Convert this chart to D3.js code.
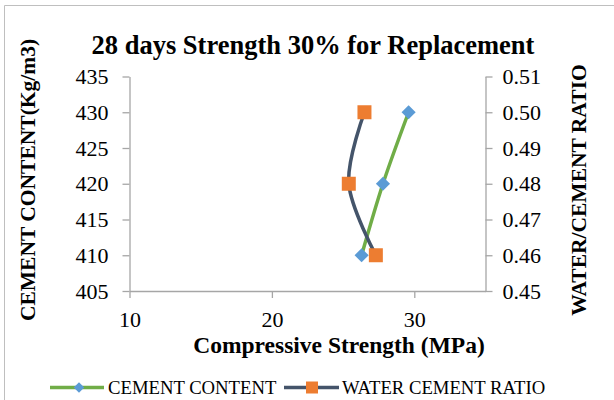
<!DOCTYPE html>
<html>
<head>
<meta charset="utf-8">
<script src="https://cdn.jsdelivr.net/npm/d3@7"></script>
<style>
  html, body { margin: 0; padding: 0; background: #fff; }
  svg { display: block; }
</style>
</head>
<body>
<svg id="chart" width="614" height="400"></svg>
<script>
// Cement content series: compressive strength (MPa) vs cement content (kg/m3)
const cementStrength = [26.3, 27.8, 29.6];
const cementContent = [410, 420, 430];
// Water/cement ratio series: compressive strength (MPa) vs w/c ratio
const wcrStrength = [27.3, 25.4, 26.5];
const wcrValues = [0.46, 0.48, 0.50];

const xTicks = [10, 20, 30];
const leftTicks = [405, 410, 415, 420, 425, 430, 435];
const rightTicks = [0.45, 0.46, 0.47, 0.48, 0.49, 0.50, 0.51];

const FONT = "'Liberation Serif'";

const svg = d3.select("#chart");
const W = 614, H = 400;
const plot = { left: 129.5, right: 485.5, top: 76.5, bottom: 291 };
const axisColor = "#a6a6a6";

// Outer chart frame (left and top edges)
svg.append("line").attr("x1", 4.5).attr("y1", 5.5).attr("x2", 4.5).attr("y2", H)
  .attr("stroke", "#bfbfbf").attr("stroke-width", 1);
svg.append("line").attr("x1", 4.5).attr("y1", 5.5).attr("x2", W).attr("y2", 5.5)
  .attr("stroke", "#bfbfbf").attr("stroke-width", 1);

const x = d3.scaleLinear().domain([10, 35]).range([plot.left, plot.right]);
const yL = d3.scaleLinear().domain([405, 435]).range([plot.bottom, plot.top]);
const yR = d3.scaleLinear().domain([0.45, 0.51]).range([plot.bottom, plot.top]);

function styleAxis(g) {
  g.attr("font-family", null).attr("font-size", null);
  g.selectAll("path").attr("stroke", axisColor).attr("stroke-width", 1.3);
  g.selectAll("line").attr("stroke", axisColor).attr("stroke-width", 1.3);
  g.selectAll("text").style("font-family", FONT).style("font-size", "22px").attr("fill", "#000");
}

// Bottom axis
svg.append("g").attr("transform", `translate(0,${plot.bottom})`)
  .call(d3.axisBottom(x).tickValues(xTicks).tickSize(7).tickPadding(13).tickSizeOuter(0))
  .call(styleAxis);

// Left axis
svg.append("g").attr("transform", `translate(${plot.left},0)`)
  .call(d3.axisLeft(yL).tickValues(leftTicks).tickSize(7).tickPadding(14).tickSizeOuter(0))
  .call(styleAxis);

// Right axis
svg.append("g").attr("transform", `translate(${plot.right},0)`)
  .call(d3.axisRight(yR).tickValues(rightTicks).tickFormat(d3.format(".2f"))
    .tickSize(7).tickPadding(10).tickSizeOuter(0))
  .call(styleAxis);

function label(sel, size, bold) {
  return sel.style("font-family", FONT).style("font-size", size + "px")
    .style("font-weight", bold ? "bold" : "normal").attr("fill", "#000");
}

// Titles
label(svg.append("text").attr("x", 313).attr("y", 54).attr("text-anchor", "middle"), 26.5, true)
  .text("28 days Strength 30% for Replacement");

label(svg.append("text").attr("x", 339).attr("y", 353).attr("text-anchor", "middle"), 23.5, true)
  .text("Compressive Strength (MPa)");

label(svg.append("text").attr("transform", "translate(35,180) rotate(-90)")
  .attr("text-anchor", "middle"), 21.5, true)
  .text("CEMENT CONTENT(Kg/m3)");

label(svg.append("text").attr("transform", "translate(586,190) rotate(-90)")
  .attr("text-anchor", "middle"), 21.5, true)
  .text("WATER/CEMENT RATIO");

// Series
const curve = d3.curveCatmullRom.alpha(0);
const cementPts = cementStrength.map((s, i) => [x(s), yL(cementContent[i])]);
const wcrPts = wcrStrength.map((s, i) => [x(s), yR(wcrValues[i])]);

const line = d3.line().curve(curve);

const diamond = d3.symbol().type(d3.symbolSquare).size(100);
const square = d3.symbol().type(d3.symbolSquare).size(196);

svg.append("path").attr("d", line(cementPts)).attr("fill", "none")
  .attr("stroke", "#70ad47").attr("stroke-width", 3.5).attr("stroke-linecap", "round");
svg.selectAll(".dia").data(cementPts).join("path").attr("class", "dia")
  .attr("d", diamond).attr("fill", "#5b9bd5")
  .attr("transform", d => `translate(${d[0]},${d[1]}) rotate(45)`);

svg.append("path").attr("d", line(wcrPts)).attr("fill", "none")
  .attr("stroke", "#44546a").attr("stroke-width", 3.5).attr("stroke-linecap", "round");
svg.selectAll(".sq").data(wcrPts).join("path").attr("class", "sq")
  .attr("d", square).attr("fill", "#ed7d31")
  .attr("transform", d => `translate(${d[0]},${d[1]})`);

// Legend
const legY = 387.5;
const leg = svg.append("g");
leg.append("line").attr("x1", 50).attr("x2", 104).attr("y1", legY).attr("y2", legY)
  .attr("stroke", "#70ad47").attr("stroke-width", 3.5);
leg.append("path").attr("d", d3.symbol().type(d3.symbolSquare).size(56))
  .attr("fill", "#5b9bd5").attr("transform", `translate(79,${legY}) rotate(45)`);
label(leg.append("text").attr("x", 108).attr("y", legY + 6.5), 18.7, false)
  .text("CEMENT CONTENT");

leg.append("line").attr("x1", 284).attr("x2", 339).attr("y1", legY).attr("y2", legY)
  .attr("stroke", "#44546a").attr("stroke-width", 3.5);
leg.append("path").attr("d", d3.symbol().type(d3.symbolSquare).size(144))
  .attr("fill", "#ed7d31").attr("transform", `translate(312,${legY})`);
label(leg.append("text").attr("x", 342).attr("y", legY + 6.5), 18.7, false)
  .text("WATER CEMENT RATIO");
</script>
</body>
</html>
